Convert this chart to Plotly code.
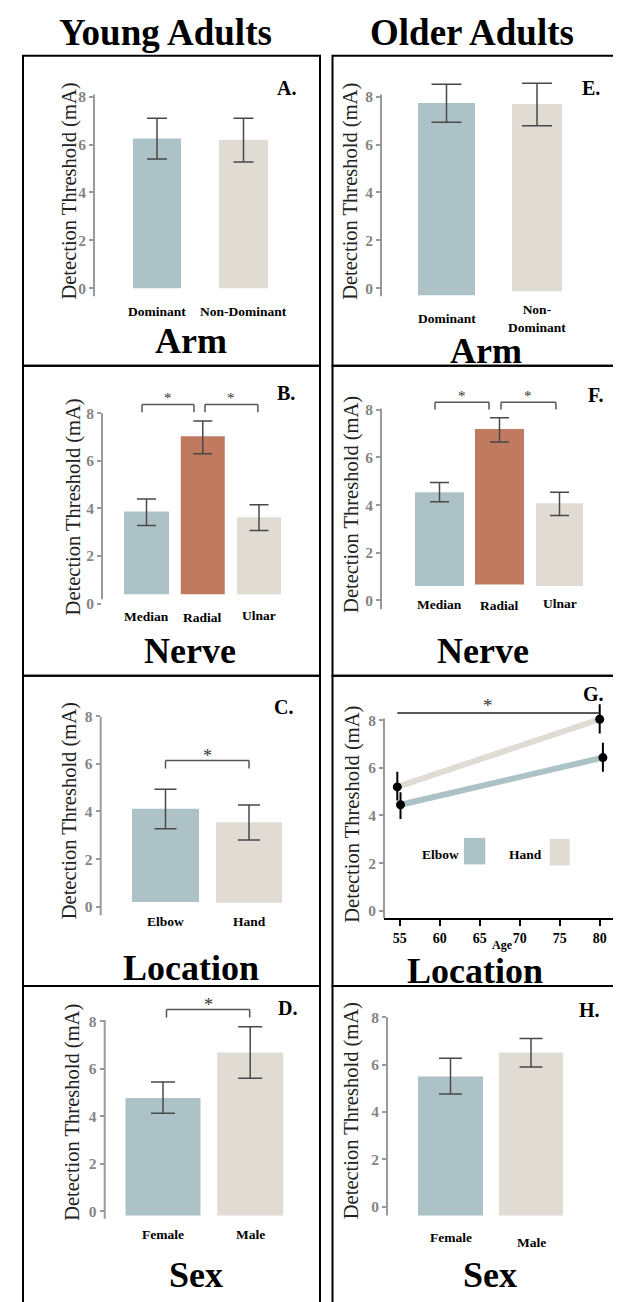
import plotly.graph_objects as go

W, H = 621, 1302
BLUE = '#adc2c7'
BEIGE = '#e0dcd4'
RUST = '#bf7a5f'
SERIF = 'Liberation Serif, Times New Roman, serif'

# ---------------- data ----------------
# A. Young, Arm
arm_cats_y = ['Dominant', 'Non-Dominant']
arm_mean_y = [6.25, 6.20]
arm_upper_y = [7.10, 7.10]
arm_lower_y = [5.40, 5.27]
# B. Young, Nerve
nerve_cats = ['Median', 'Radial', 'Ulnar']
nerve_mean_y = [3.87, 7.03, 3.63]
nerve_upper_y = [4.40, 7.67, 4.15]
nerve_lower_y = [3.28, 6.30, 3.07]
# C. Young, Location
loc_cats = ['Elbow', 'Hand']
loc_mean_y = [4.12, 3.55]
loc_upper_y = [4.93, 4.27]
loc_lower_y = [3.28, 2.80]
# D. Young, Sex
sex_cats = ['Female', 'Male']
sex_mean_y = [4.77, 6.68]
sex_upper_y = [5.44, 7.77]
sex_lower_y = [4.13, 5.60]
# E. Older, Arm
arm_cats_o = ['Dominant', 'Non-<br>Dominant']
arm_mean_o = [7.73, 7.69]
arm_upper_o = [8.52, 8.56]
arm_lower_o = [6.93, 6.79]
# F. Older, Nerve
nerve_mean_o = [4.54, 7.20, 4.08]
nerve_upper_o = [4.95, 7.67, 4.54]
nerve_lower_o = [4.14, 6.65, 3.56]
# G. Older, Location vs Age
age_elbow = [55.1, 80.4]
thr_elbow = [4.45, 6.43]
upper_elbow = [4.97, 7.05]
lower_elbow = [3.85, 5.84]
age_hand = [54.7, 80.0]
thr_hand = [5.20, 8.04]
upper_hand = [5.84, 8.67]
lower_hand = [4.63, 7.44]
age_ticks = [55, 60, 65, 70, 75, 80]
# H. Older, Sex
sex_mean_o = [5.50, 6.51]
sex_upper_o = [6.27, 7.11]
sex_lower_o = [4.76, 5.90]
y_ticks = [0, 2, 4, 6, 8]


def px(x):
    return x / W


def py(y):
    return 1 - y / H


def xn(n):
    return 'x' if n == 1 else 'x%d' % n


def yn(n):
    return 'y' if n == 1 else 'y%d' % n


fig = go.Figure()
layout = dict(width=W, height=H, margin=dict(l=0, r=0, t=0, b=0),
              paper_bgcolor='white', plot_bgcolor='rgba(0,0,0,0)',
              showlegend=False, shapes=[], annotations=[])
shapes = layout['shapes']
anns = layout['annotations']


def text(x, y, s, size, bold=True, color='black', angle=0, xref='paper', yref='paper'):
    anns.append(dict(x=x, y=y, xref=xref, yref=yref, text=s, showarrow=False,
                     textangle=angle, xanchor='center', yanchor='middle',
                     font=dict(family=SERIF, size=size, color=color,
                               weight='bold' if bold else 'normal')))


def yaxis_setup(n, y0pix, scale, lo, hi, line_lo, line_hi):
    dom = [py(y0pix - lo * scale), py(y0pix - hi * scale)]
    layout['yaxis' if n == 1 else 'yaxis%d' % n] = dict(
        domain=dom, range=[lo, hi], anchor=xn(n),
        tickvals=y_ticks, ticks='outside', ticklen=4,
        tickwidth=1.5, tickcolor='#9a9a9a',
        showline=False, showgrid=False, zeroline=False,
        tickfont=dict(family=SERIF, size=15.5, color='#858585', weight='bold'))
    shapes.append(dict(type='line', xref=xn(n) + ' domain', yref=yn(n),
                       x0=0, x1=0, y0=line_lo, y1=line_hi,
                       line=dict(color='#9a9a9a', width=2)))


def bar_panel(n, cats, mean, upper, lower, colors, P):
    idx = list(range(len(cats)))
    s = P['s']
    base = P['base']
    if not isinstance(base, list):
        base = [base] * len(cats)
    heights = [m - b for m, b in zip(mean, base)]
    fig.add_trace(go.Bar(x=idx, y=heights, base=base, width=[w / s for w in P['widths']],
                         marker=dict(color=colors, line=dict(width=0)),
                         error_y=dict(type='data', symmetric=False,
                                      array=[u - m for u, m in zip(upper, mean)],
                                      arrayminus=[m - l for m, l in zip(mean, lower)],
                                      color='#484848', thickness=1.5, width=P['cap']),
                         xaxis=xn(n), yaxis=yn(n), cliponaxis=False))
    r0 = (P['ax'] - P['c0']) / s
    r1 = (P['right'] - P['c0']) / s
    layout['xaxis' if n == 1 else 'xaxis%d' % n] = dict(
        domain=[px(P['ax']), px(P['right'])], range=[r0, r1],
        visible=False, anchor=yn(n))
    lo = min(min(base), P['line'][0], 0) - 0.03
    yaxis_setup(n, P['y0'], P['scale'], lo, 9.2, P['line'][0], P['line'][1])
    for i, c in enumerate(cats):
        text(i, py(P['laby'][i]), c, 13.5, xref=xn(n))
    for (a, b, yt, yl, star_y, ssize) in P.get('brackets', []):
        for (xa, xb, ya, yb) in [(a, a, yl, yt), (a, b, yt, yt), (b, b, yt, yl)]:
            shapes.append(dict(type='line', xref=xn(n), yref=yn(n),
                               x0=xa, x1=xb, y0=ya, y1=yb,
                               line=dict(color='#555555', width=1.5)))
        text((a + b) / 2, star_y, '*', ssize, bold=False, color='#333333',
             xref=xn(n), yref=yn(n))


# ---------------- panels ----------------
PA = dict(ax=86, right=300, c0=149, s=86.5, widths=[48, 49], y0=282, scale=24.1,
          base=0, line=[-0.33, 8.09], cap=10, laby=[305, 305])
bar_panel(1, arm_cats_y, arm_mean_y, arm_upper_y, arm_lower_y, [BLUE, BEIGE], PA)

PB = dict(ax=94, right=300, c0=138.5, s=56.25, widths=[45, 44, 44], y0=599.3, scale=23.95,
          base=0.39, line=[0.18, 8.0], cap=9.5, laby=[612, 613, 611],
          brackets=[(-0.08, 0.844, 8.36, 8.04, 8.62, 15), (1.04, 1.98, 8.36, 8.04, 8.62, 15)])
bar_panel(2, nerve_cats, nerve_mean_y, nerve_upper_y, nerve_lower_y, [BLUE, RUST, BEIGE], PB)

PC = dict(ax=92.7, right=300, c0=157.5, s=83.5, widths=[67, 66], y0=904.3, scale=23.96,
          base=[0.2, 0.17], line=[-0.36, 7.98], cap=11, laby=[919, 919],
          brackets=[(0.0, 1.0, 6.14, 5.81, 6.35, 18)])
bar_panel(3, loc_cats, loc_mean_y, loc_upper_y, loc_lower_y, [BLUE, BEIGE], PC)

PD = dict(ax=96.7, right=300, c0=155, s=87.2, widths=[75, 66], y0=1210.7, scale=23.9,
          base=-0.18, line=[-0.32, 8.05], cap=12, laby=[1234, 1234],
          brackets=[(0.04, 0.994, 8.49, 8.16, 8.7, 18)])
bar_panel(4, sex_cats, sex_mean_y, sex_upper_y, sex_lower_y, [BLUE, BEIGE], PD)

PE = dict(ax=373, right=610, c0=438.5, s=90.5, widths=[57, 50], y0=282, scale=24.1,
          base=[-0.29, -0.12], line=[-0.33, 8.09], cap=15, laby=[312, 312])
bar_panel(5, arm_cats_o, arm_mean_o, arm_upper_o, arm_lower_o, [BLUE, BEIGE], PE)

PF = dict(ax=373, right=610, c0=431.5, s=60, widths=[49, 49, 47], y0=596, scale=23.96,
          base=[0.6, 0.67, 0.6], line=[-0.37, 8.06], cap=9.5, laby=[600, 601, 599],
          brackets=[(-0.075, 0.825, 8.32, 8.01, 8.58, 15), (1.025, 1.94, 8.32, 8.01, 8.58, 15)])
bar_panel(6, nerve_cats, nerve_mean_o, nerve_upper_o, nerve_lower_o, [BLUE, RUST, BEIGE], PF)

PH = dict(ax=379, right=610, c0=442.5, s=80.5, widths=[65, 64], y0=1206, scale=23.8,
          base=-0.38, line=[-0.38, 8.01], cap=11.5, laby=[1237.3, 1241.7])
bar_panel(8, sex_cats, sex_mean_o, sex_upper_o, sex_lower_o, [BLUE, BEIGE], PH)

# G: line panel
G_ax, G_right, G_y0, G_scale = 376, 611.7, 908.3, 23.96
g_r0 = 55 - (391.7 - G_ax) / 8.0
g_r1 = 80 + (G_right - 591.7) / 8.0
layout['xaxis7'] = dict(domain=[px(G_ax), px(G_right)], range=[g_r0, g_r1], anchor='y7',
                        tickvals=age_ticks, ticks='outside', ticklen=6, tickwidth=2,
                        tickcolor='black', showline=True, linecolor='black', linewidth=2,
                        showgrid=False, zeroline=False,
                        tickfont=dict(family=SERIF, size=14, color='black', weight='bold'))
yaxis_setup(7, G_y0, G_scale, -0.32, 9.2, -0.32, 8.07)
fig.add_trace(go.Scatter(x=age_elbow, y=thr_elbow, mode='lines',
                         line=dict(color=BLUE, width=6), xaxis='x7', yaxis='y7'))
fig.add_trace(go.Scatter(x=age_hand, y=thr_hand, mode='lines',
                         line=dict(color=BEIGE, width=6), xaxis='x7', yaxis='y7'))
for ages, thr, up, lw in [(age_elbow, thr_elbow, upper_elbow, lower_elbow),
                          (age_hand, thr_hand, upper_hand, lower_hand)]:
    fig.add_trace(go.Scatter(x=ages, y=thr, mode='markers', cliponaxis=False,
                             marker=dict(color='black', size=9),
                             error_y=dict(type='data', symmetric=False,
                                          array=[u - m for u, m in zip(up, thr)],
                                          arrayminus=[m - l for m, l in zip(thr, lw)],
                                          color='black', thickness=2, width=0),
                             xaxis='x7', yaxis='y7'))
shapes.append(dict(type='line', xref='x7', yref='y7', x0=age_hand[0], x1=age_hand[1],
                   y0=8.3, y1=8.3, line=dict(color='#222222', width=1.5)))
text(66.0, 8.62, '*', 19, bold=False, color='#333333', xref='x7', yref='y7')
# G legend
for (x0, x1, y0, y1, col) in [(456, 477.3, 835, 861.7, BLUE), (541.7, 561.7, 836, 862.7, BEIGE)]:
    shapes.append(dict(type='rect', xref='paper', yref='paper', x0=px(x0), x1=px(x1),
                       y0=py(y1), y1=py(y0), fillcolor=col, line=dict(width=0)))
text(px(432.7), py(851.7), 'Elbow', 13.5)
text(px(517.3), py(851.7), 'Hand', 13.5)
text(px(494), py(943), 'Age', 12)

# ---------------- texts ----------------
text(px(157), py(25), 'Young Adults', 37)
text(px(464), py(25), 'Older Adults', 37)

group_titles = [('Arm', 183, 335), ('Nerve', 182, 647), ('Location', 183, 966), ('Sex', 188, 1275),
                ('Arm', 478, 345), ('Nerve', 475, 647), ('Location', 467, 969), ('Sex', 481.7, 1275)]
for s, x, y in group_titles:
    text(px(x), py(y), s, 36)

letters = [('A.', 278, 80), ('B.', 278, 387), ('C.', 275, 703), ('D.', 279, 1006),
           ('E.', 583, 80), ('F.', 587, 389), ('G.', 585, 690), ('H.', 581, 1008)]
for s, x, y in letters:
    text(px(x), py(y), s, 20)

ytitles = [(61.7, 184), (65, 502.5), (61.7, 807.5), (65, 1111.7),
           (343, 185), (344, 500), (345, 811.7), (343, 1110)]
for x, y in ytitles:
    text(px(x), py(y), 'Detection Threshold (mA)', 20.5, bold=False, color='#222222', angle=-90)

# panel frames
cols = [(15, 312), (324.5, 620)]
rows = [(48, 360), (360, 672), (672, 984), (984, 1303)]
for (x0, x1) in cols:
    for (y0, y1) in rows:
        shapes.append(dict(type='rect', xref='paper', yref='paper', x0=px(x0), x1=px(x1),
                           y0=py(y1), y1=py(y0), line=dict(color='black', width=2),
                           fillcolor='rgba(0,0,0,0)'))

fig.update_layout(**layout)
fig.write_html('out.html')
